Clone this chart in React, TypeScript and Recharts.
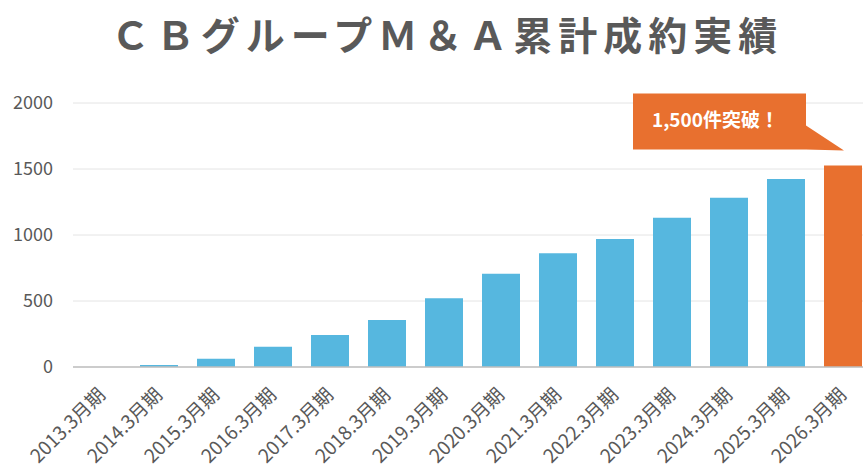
import { Bar, BarChart, CartesianGrid, Cell, LabelList, XAxis, YAxis } from "recharts";

const categories = [
  "2013.3月期",
  "2014.3月期",
  "2015.3月期",
  "2016.3月期",
  "2017.3月期",
  "2018.3月期",
  "2019.3月期",
  "2020.3月期",
  "2021.3月期",
  "2022.3月期",
  "2023.3月期",
  "2024.3月期",
  "2025.3月期",
  "2026.3月期",
];
const deals = [0, 15, 63, 153, 243, 356, 521, 707, 861, 970, 1130, 1282, 1424, 1527];
const yTicks = [0, 500, 1000, 1500, 2000];
const title = "ＣＢグループＭ＆Ａ累計成約実績";
const calloutText = "1,500件突破！";

const data = categories.map((name, i) => ({ name, value: deals[i] }));
const lastIndex = data.length - 1;

const BLUE = "#56b7df";
const ORANGE = "#e8702f";
const GRAY = "#595959";
const FONT = '"Noto Sans CJK JP", "Noto Sans", sans-serif';

function XTick(props: any) {
  const { x, y, payload } = props;
  return (
    <g transform={`translate(${x + 5},${y + 29}) rotate(-45)`}>
      <text textAnchor="end" fill={GRAY} fontSize={19} fontFamily={FONT}>
        {payload.value}
      </text>
    </g>
  );
}

// speech-bubble callout above the last bar
function renderCallout(props: any) {
  const { x, y, width, index, value } = props;
  const isLast = index === lastIndex || Number(value) === deals[lastIndex];
  if (!isLast) return null;
  const bx = Number(x);
  const by = Number(y);
  const tipX = bx + Number(width) / 2 + 1;
  const tipY = by - 15;
  const right = bx - 18;
  const left = right - 173;
  const top = by - 72;
  const bottom = by - 16;
  const path = `M${left},${top} L${right},${top} L${right},${top + 32} L${tipX},${tipY} L${right},${bottom} L${left},${bottom} Z`;
  return (
    <g key="callout">
      <path d={path} fill={ORANGE} />
      <text
        x={(left + right) / 2 - 4}
        y={top + 34}
        textAnchor="middle"
        fill="#ffffff"
        fontSize={19}
        fontWeight={700}
        fontFamily={FONT}
      >
        {calloutText}
      </text>
    </g>
  );
}

export default function App() {
  return (
    <div
      style={{
        position: "absolute",
        left: 0,
        top: 0,
        width: 863,
        height: 471,
        overflow: "hidden",
        background: "#fff",
      }}
    >
      <div
        style={{
          position: "absolute",
          left: 0,
          top: 8,
          width: 894,
          textAlign: "center",
          fontFamily: FONT,
          fontSize: 39,
          fontWeight: 700,
          letterSpacing: 6,
          color: GRAY,
          lineHeight: "50px",
        }}
      >
        {title}
      </div>
      <BarChart
        width={880}
        height={471}
        data={data}
        margin={{ top: 103, right: 9, bottom: 0, left: 0 }}
        barSize={38}
      >
        <CartesianGrid vertical={false} stroke="#e4e4e4" />
        <XAxis
          dataKey="name"
          height={104}
          interval={0}
          tickLine={false}
          tickSize={0}
          tickMargin={0}
          axisLine={{ stroke: "#bfbfbf", strokeWidth: 1.5 }}
          tick={<XTick />}
        />
        <YAxis
          width={73}
          domain={[0, 2000]}
          ticks={yTicks}
          axisLine={false}
          tickLine={false}
          tickSize={0}
          tickMargin={20}
          tick={{ fill: GRAY, fontSize: 18, fontFamily: FONT }}
        />
        <Bar dataKey="value" isAnimationActive={false}>
          {data.map((entry, i) => (
            <Cell key={entry.name} fill={i === lastIndex ? ORANGE : BLUE} />
          ))}
          <LabelList dataKey="value" content={renderCallout} />
        </Bar>
      </BarChart>
    </div>
  );
}
